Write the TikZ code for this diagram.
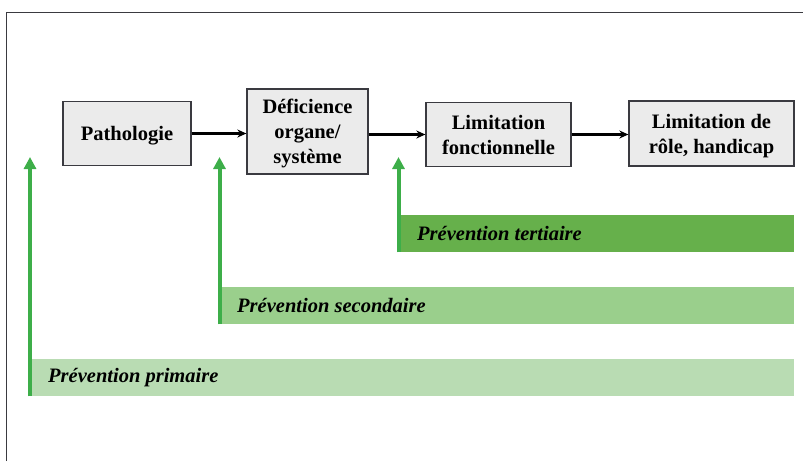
\documentclass[tikz,border=0pt]{standalone}
\usepackage{fontspec}
\setmainfont{Liberation Serif}
\usetikzlibrary{arrows.meta, positioning}

\definecolor{boxfill}{HTML}{EBEBEB}
\definecolor{boxline}{HTML}{3A3A40}
\definecolor{arrowgreen}{HTML}{3DAE49}
\definecolor{tertgreen}{HTML}{66B04B}
\definecolor{secgreen}{HTML}{9ACF8C}
\definecolor{primgreen}{HTML}{B9DCB3}

\begin{document}
\begin{tikzpicture}[
    x=1pt, y=-1pt,
    stage/.style={rectangle, draw=boxline, line width=1.3pt, fill=boxfill, align=center,
        inner sep=0pt, text depth=0pt, font=\fontsize{20.5}{25}\selectfont\bfseries},
    bar/.style={rectangle, draw=none, minimum height=37pt, inner sep=0pt, anchor=north west},
    bartext/.style={anchor=west, inner sep=0pt, font=\fontsize{20.5}{25}\selectfont\bfseries\itshape},
    flow/.style={-{Stealth[length=9pt, width=8pt]}, line width=3pt, black},
    prevarrow/.style={-{Triangle[length=12pt, width=12pt]}, line width=4pt, arrowgreen}
]

% Frame
\useasboundingbox (0,0) rectangle (803,461);
\draw[boxline, line width=1pt] (6,461) -- (6,12) -- (803,12);

% Bars
\node[bar, fill=tertgreen, minimum width=397pt] (tert) at (397,215) {};
\node[bar, fill=secgreen,  minimum width=576pt] (sec)  at (218,287) {};
\node[bar, fill=primgreen, minimum width=766pt] (prim) at (28,359) {};

% Bar labels
\node[bartext, right=20pt of tert.west] (terttext) {Prévention tertiaire};
\node[bartext, right=19pt of sec.west]  (sectext)  {Prévention secondaire};
\node[bartext, right=20pt of prim.west] (primtext) {Prévention primaire};

% Nodes
\node[stage, minimum width=128pt, minimum height=64pt] (patho) at (127,133.5) {Pathologie};
\node[stage, minimum width=121pt, minimum height=85pt] (defic) at (307.5,131.5) {Déficience\\organe/\\système};
\node[stage, minimum width=145pt, minimum height=64pt] (limfct) at (498.5,134.5) {Limitation\\fonctionnelle};
\node[stage, minimum width=165pt, minimum height=65pt] (limrole) at (711.5,133.5) {Limitation de\\rôle, handicap};

% Arrows
\draw[flow] (patho.east) -- (patho.east -| defic.west);
\draw[flow] (limfct.west -| defic.east) -- (limfct.west);
\draw[flow] (limfct.east) -- (limfct.east -| limrole.west);

% Prevention arrows
\coordinate (tipprim) at (30,157);
\coordinate (tipsec)  at (219.5,157);
\coordinate (tiptert) at (398.5,157);
\draw[prevarrow] ([xshift=2pt]prim.south west) -- (tipprim);
\draw[prevarrow] ([xshift=1.5pt]sec.south west) -- (tipsec);
\draw[prevarrow] ([xshift=1.5pt]tert.south west) -- (tiptert);

\end{tikzpicture}
\end{document}
